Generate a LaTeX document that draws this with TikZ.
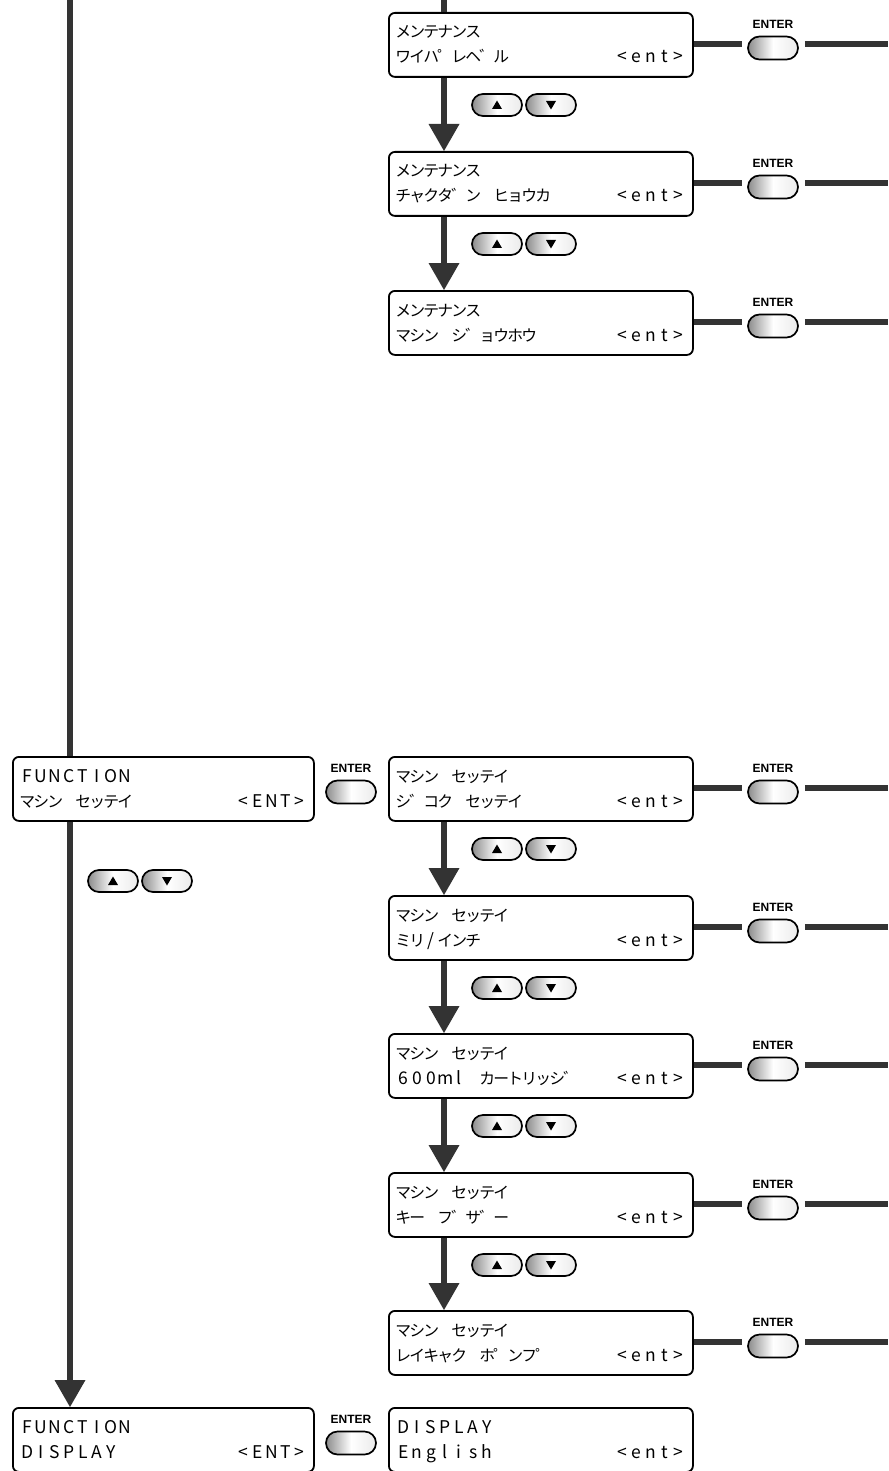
\documentclass[tikz,border=0pt]{standalone}
\usepackage{fontspec}
\setmainfont{Noto Sans CJK JP}
\newfontfamily\enterfont{Liberation Sans}
\usetikzlibrary{arrows.meta,calc,shapes.misc}
\definecolor{linegray}{HTML}{333333}

\makeatletter
\newcommand\lcdcell[1]{\makebox[14pt][c]{\ifnum`#1>255 \fontsize{15.8}{15.8}\selectfont\else\fontsize{17.5}{17.5}\selectfont\fi #1}}
\def\lcd#1{\lcd@a#1\@nil}
\def\lcd@a#1{\ifx#1\@nil\else\lcdcell{#1}\expandafter\lcd@a\fi}
\makeatother

\tikzset{
 lcdbox/.style={draw=black, line width=1.8pt, rounded corners=6pt, minimum height=64pt, inner sep=0pt, anchor=north west, fill=white},
 lcdtxt/.style={inner sep=0pt, anchor=base west},
 lcdend/.style={inner sep=0pt, anchor=base east},
 conn/.style={draw=linegray, line width=6pt},
 arr/.style={-{Triangle[width=31pt,length=27pt,line width=0pt]}},
 btn/.style={rounded rectangle, draw=black, line width=1.7pt, minimum width=50pt, minimum height=23pt, inner sep=0pt, left color=black!45, right color=black!8, middle color=white},
 keybtn/.style={btn, minimum height=22pt},
 enterlbl/.style={font=\enterfont\bfseries\fontsize{12}{12}\selectfont, inner sep=0pt, anchor=base},
}

\newcommand\screen[7]{%
 \node[lcdbox, minimum width=#4] (#1) at (#2,#3) {};
 \node[lcdtxt] (#1a) at ($(#1.north west)+(8,26)$) {\lcd{#5}};
 \node[lcdtxt] (#1b) at ($(#1.north west)+(8,51)$) {\lcd{#6}};
 \node[lcdend] (#1c) at ($(#1.north east)+(-8,51)$) {\lcd{#7}};
}
\newcommand\enterbtn[3]{%
 \node[btn] (#1) at (#2,#3) {};
 \node[enterlbl] (#1l) at ($(#1.north)+(0,-7.5)$) {ENTER};
}
\newcommand\enterline[2]{%
 \draw[conn] ([yshift=1pt]#1.east) -- ([xshift=-5pt,yshift=1pt]#1.east -| #2.west);
 \draw[conn] ([xshift=6pt,yshift=1pt]#1.east -| #2.east) -- ([yshift=1pt]#1.east -| edge);
}
\newcommand\keys[3]{%
 \node[keybtn] (#1u) at (#2,#3) {};
 \node[keybtn] (#1d) at ($(#1u)+(54,0)$) {};
 \fill ($(#1u.center)+(-5,4)$) -- ++(10,0) -- ++(-5,-8.5) -- cycle;
 \fill ($(#1d.center)+(-5,-4)$) -- ++(10,0) -- ++(-5,8.5) -- cycle;
}

\begin{document}
\begin{tikzpicture}[x=1pt,y=-1pt]
\useasboundingbox (0,0) rectangle (888,1471);
\coordinate (edge) at (888,0);
\coordinate (c1) at (70,0);
\coordinate (c2) at (444,0);

% column 2 upper
\screen{m1}{388}{12}{304pt}{メンテナンス}{ワイハ゜レヘ゛ル}{<ent>}
\screen{m2}{388}{151}{304pt}{メンテナンス}{チャクタ゛ン　ヒョウカ}{<ent>}
\screen{m3}{388}{290}{304pt}{メンテナンス}{マシン　シ゛ョウホウ}{<ent>}
% left column
\screen{f1}{12}{756}{301pt}{FUNCTION}{マシン　セッテイ}{<ENT>}
\screen{f2}{12}{1407}{301pt}{FUNCTION}{DISPLAY}{<ENT>}
% column 2 lower
\screen{s1}{388}{756}{304pt}{マシン　セッテイ}{シ゛コク　セッテイ}{<ent>}
\screen{s2}{388}{895}{304pt}{マシン　セッテイ}{ミリ/インチ}{<ent>}
\screen{s3}{388}{1033}{304pt}{マシン　セッテイ}{600ml　カートリッシ゛}{<ent>}
\screen{s4}{388}{1172}{304pt}{マシン　セッテイ}{キー　フ゛サ゛ー}{<ent>}
\screen{s5}{388}{1310}{304pt}{マシン　セッテイ}{レイキャク　ホ゜ンフ゜}{<ent>}
\screen{d1}{388}{1407}{304pt}{DISPLAY}{English}{<ent>}

% vertical connectors
\draw[conn] (c2) -- (m1.north -| c2);
\draw[conn,arr] (m1.south -| c2) -- (m2.north -| c2);
\draw[conn,arr] (m2.south -| c2) -- (m3.north -| c2);
\draw[conn,arr] (s1.south -| c2) -- (s2.north -| c2);
\draw[conn,arr] (s2.south -| c2) -- (s3.north -| c2);
\draw[conn,arr] (s3.south -| c2) -- (s4.north -| c2);
\draw[conn,arr] (s4.south -| c2) -- (s5.north -| c2);
\draw[conn] (c1) -- (f1.north -| c1);
\draw[conn,arr] (f1.south -| c1) -- (f2.north -| c1);

% enter buttons
\enterbtn{em1}{773}{48}
\enterbtn{em2}{773}{187}
\enterbtn{em3}{773}{326}
\enterbtn{es1}{773}{792}
\enterbtn{es2}{773}{931}
\enterbtn{es3}{773}{1069}
\enterbtn{es4}{773}{1208}
\enterbtn{es5}{773}{1346}
\enterbtn{ef1}{351}{792}
\enterbtn{ef2}{351}{1443}
\enterline{m1}{em1}
\enterline{m2}{em2}
\enterline{m3}{em3}
\enterline{s1}{es1}
\enterline{s2}{es2}
\enterline{s3}{es3}
\enterline{s4}{es4}
\enterline{s5}{es5}

% up/down keys
\keys{k1}{497}{105}
\keys{k2}{497}{244}
\keys{k3}{497}{849}
\keys{k4}{497}{988}
\keys{k5}{497}{1126}
\keys{k6}{497}{1265}
\keys{k7}{113}{881}
\end{tikzpicture}
\end{document}
